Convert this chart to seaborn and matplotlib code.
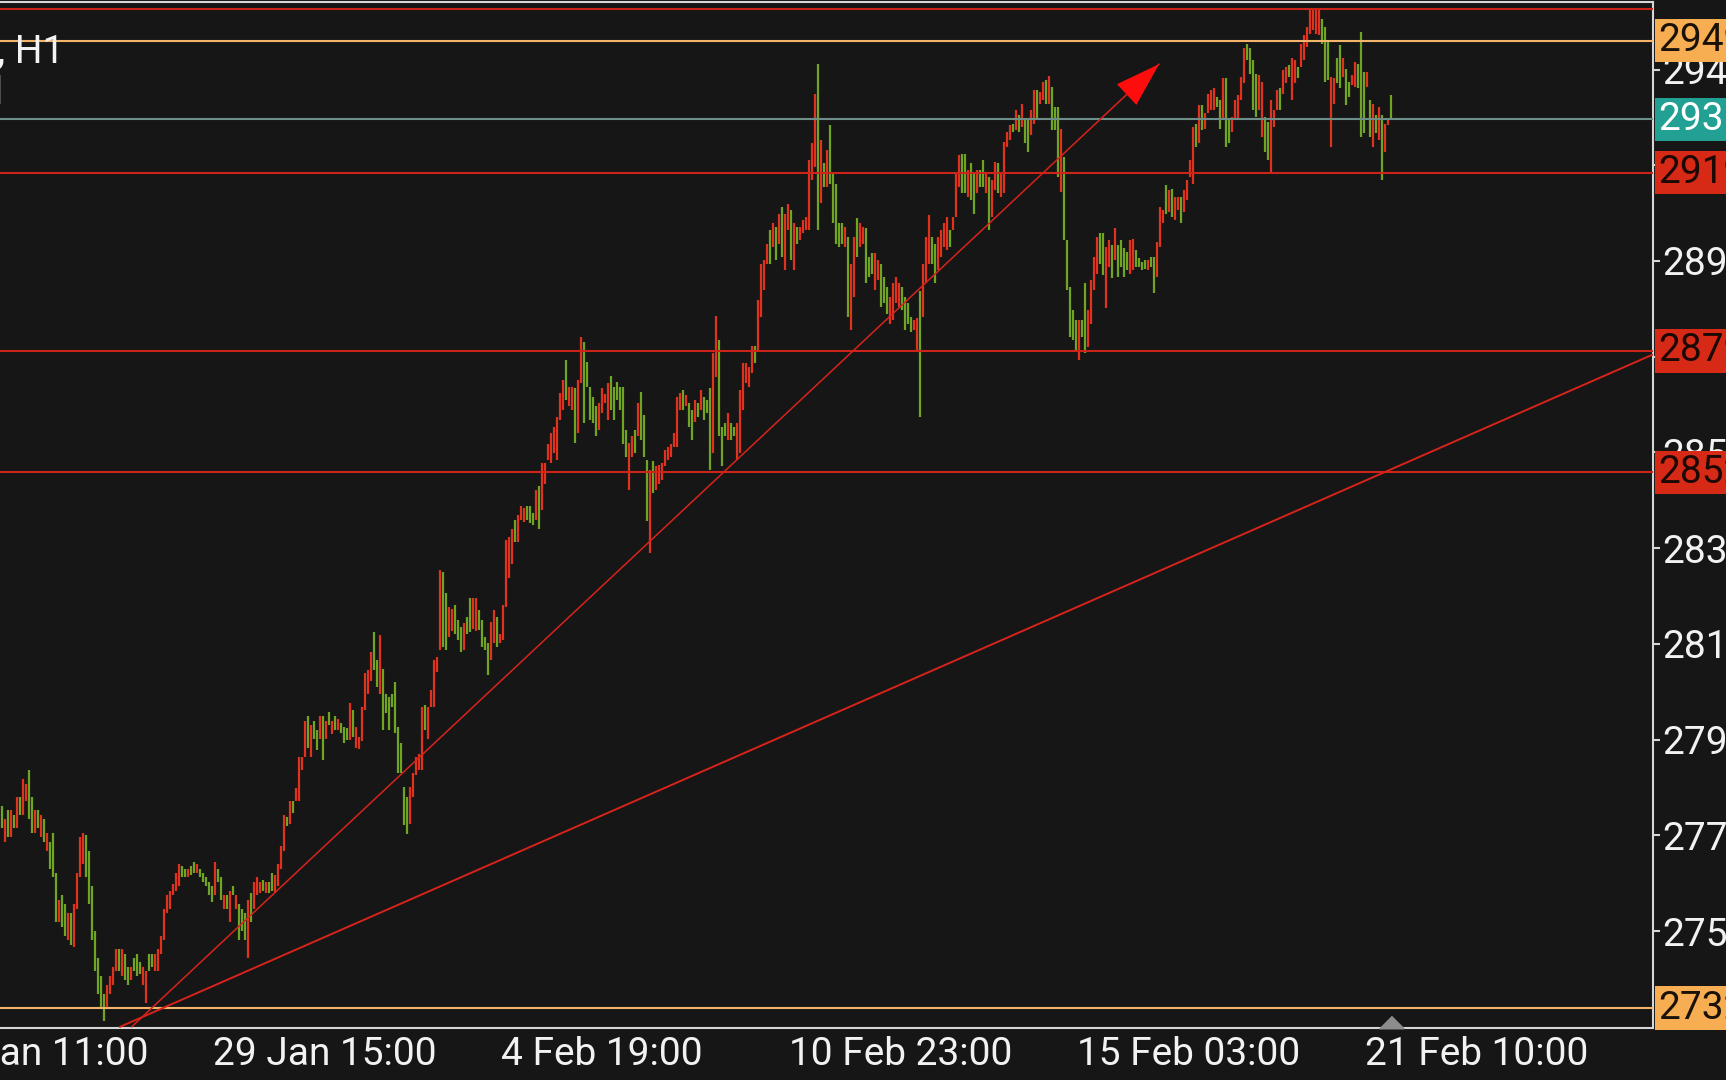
import numpy as np
import pandas as pd
import matplotlib
matplotlib.use("Agg")
import matplotlib.pyplot as plt
import seaborn as sns

# hourly bars (red = up, green = down)
opens = [
    2778, 2770, 2777, 2771, 2776, 2773, 2780, 2776, 2779, 2786,
    2780, 2772, 2777, 2771, 2775, 2768, 2770, 2772, 2763, 2752,
    2758, 2756, 2748, 2754, 2746.5, 2755, 2762, 2765, 2771.5, 2768,
    2760, 2750, 2744, 2740, 2736, 2733, 2736, 2738, 2741, 2746,
    2740, 2745, 2742, 2739, 2744, 2745, 2743, 2738, 2734, 2745,
    2745, 2741, 2741, 2745, 2748, 2754, 2755, 2758, 2759, 2760,
    2764.5, 2764, 2762, 2764.5, 2765.5, 2763, 2764, 2763, 2762, 2761,
    2760, 2758, 2764, 2762, 2755, 2758, 2752, 2760, 2755, 2756,
    2755, 2754, 2744, 2758.5, 2755, 2758, 2758.5, 2761.5, 2758.5, 2761,
    2763, 2758.5, 2760, 2764, 2768, 2775.6, 2774, 2779, 2779, 2779,
    2786, 2789, 2798, 2789, 2797, 2795, 2793, 2798, 2793, 2799,
    2794, 2798, 2795, 2796.5, 2795.7, 2795.3, 2792.7, 2799.4, 2791, 2790.8,
    2792.6, 2799.5, 2803, 2806, 2816.9, 2810.6, 2803.1, 2808.7, 2803.1, 2802.4,
    2803, 2805.7, 2795.7, 2792, 2782.3, 2780, 2774, 2780, 2785, 2786,
    2786, 2800.5, 2793, 2800, 2800, 2808, 2812.8, 2830.3, 2825.5, 2815.8,
    2817, 2822.9, 2819.5, 2818, 2812.8, 2820.3, 2824.4, 2817.6, 2817, 2821.8,
    2819.5, 2815.8, 2814.3, 2810.6, 2814.3, 2820.3, 2814.3, 2815, 2822.5, 2829,
    2832, 2842, 2837, 2842, 2841.5, 2845, 2845, 2843.4, 2841.9, 2849.4,
    2844.2, 2850, 2855.3, 2854.6, 2856.8, 2855.3, 2864.3, 2866.5, 2877.7, 2867.3,
    2866.5, 2871.3, 2861.3, 2872.5, 2881.8, 2877.3, 2871.7, 2869.5, 2867.3, 2862,
    2865.8, 2868, 2864.3, 2874, 2871.7, 2872.8, 2871.7, 2871.7, 2862, 2848.6,
    2856, 2862, 2860.6, 2870.6, 2865.4, 2855.3, 2834.5, 2855, 2848.6, 2850,
    2850.9, 2853.9, 2855.3, 2856, 2858.3, 2858.3, 2866.5, 2871, 2867.3, 2868,
    2866.5, 2863.9, 2868, 2866.5, 2869.5, 2868.7, 2871.3, 2856.8, 2873.9, 2882.2,
    2862.8, 2863.5, 2859.8, 2863.5, 2862.8, 2855.3, 2856.8, 2866.5, 2872.5, 2871.7,
    2874.7, 2880.7, 2879.9, 2887.3, 2893.3, 2899.2, 2906.7, 2903, 2907.4, 2903.7,
    2911.9, 2897.8, 2906.7, 2911.2, 2897.8, 2907.4, 2904.5, 2906, 2906.7, 2906.7,
    2917.9, 2920.9, 2943.9, 2912.7, 2921.6, 2916.4, 2930.2, 2919.4, 2917.1, 2908.2,
    2908.2, 2903, 2905.2, 2884.3, 2891.8, 2909.3, 2903, 2903.7, 2907.1, 2900.7,
    2901.5, 2893.3, 2895.5, 2899.2, 2896.3, 2894, 2885.8, 2886.6, 2890.3, 2889.6,
    2894, 2891.8, 2890.3, 2887.3, 2884.3, 2880, 2893, 2887.3, 2894.8, 2899.2,
    2905.2, 2903.7, 2897.8, 2900.7, 2903, 2902.2, 2906.7, 2906.7, 2909.7, 2916.4,
    2923.7, 2923.7, 2914.2, 2921.6, 2919.4, 2914.9, 2920.1, 2922.4, 2914.9, 2918.6,
    2909.7, 2915.6, 2921.6, 2914.2, 2914.9, 2925.3, 2926.8, 2930.5, 2929, 2932.4,
    2929.8, 2931.3, 2931.3, 2927.9, 2930.5, 2938, 2935, 2935.8, 2940.2, 2935,
    2938.7, 2934.3, 2934.3, 2915.3, 2923.1, 2904.5, 2894, 2888.8, 2886.6, 2877.7,
    2886.6, 2894.8, 2880.6, 2885.8, 2893.3, 2897, 2906, 2906, 2889.2, 2898.5,
    2903.3, 2900, 2903.3, 2904.5, 2902.6, 2901.9, 2897, 2897.8, 2902.2, 2900.4,
    2899.6, 2900, 2897.8, 2900.7, 2900.7, 2896.3, 2903, 2908.2, 2916.8, 2910.8,
    2916, 2908.9, 2911.2, 2914.2, 2910.8, 2913.4, 2918.6, 2917.1, 2930.5, 2926.1,
    2934.6, 2929.4, 2932.8, 2933.5, 2933.5, 2936.5, 2935.7, 2931.3, 2940.6, 2931.3,
    2928.7, 2931.3, 2931.6, 2935.7, 2939.5, 2948.4, 2947.3, 2944.7, 2941.7, 2933.5,
    2927.6, 2932, 2930.9, 2919.7, 2929.8, 2933.5, 2938.4, 2937.2, 2939.5, 2943.6,
    2935.7, 2939.5, 2943.2, 2943.2, 2944.7, 2947.7, 2950.6, 2951.4, 2950.6, 2950.3,
    2954, 2952.1, 2948.8, 2925.3, 2935, 2945.1, 2948, 2941, 2942.8, 2939.8,
    2939.1, 2938.7, 2943.9, 2951, 2942.1, 2938.7, 2935.7, 2925.3, 2932.4, 2926.8,
    2932.4, 2924.2, 2930.2, 2936.9,
]
closes = [
    2773, 2775, 2771, 2777, 2773, 2780, 2776, 2784, 2783, 2775,
    2772, 2777, 2773, 2776, 2770, 2772, 2764, 2762, 2752, 2757,
    2751, 2749, 2754, 2747, 2756, 2763, 2771, 2772, 2762, 2756,
    2748, 2741, 2736, 2733, 2730, 2738, 2740, 2742, 2746, 2741,
    2746, 2739, 2738, 2742, 2741, 2740, 2740.5, 2742, 2741, 2741,
    2742, 2745, 2746, 2749, 2755, 2758, 2759, 2760.5, 2763, 2765,
    2762, 2762, 2764, 2762.5, 2763, 2765, 2762, 2761, 2760, 2758,
    2756.5, 2765.5, 2761, 2757, 2758, 2755, 2759, 2758, 2758, 2748,
    2750, 2748, 2757, 2752, 2761, 2762, 2761, 2759, 2761, 2758.5,
    2759, 2762.5, 2765, 2769, 2776, 2773.4, 2779, 2776.5, 2782, 2789,
    2789, 2797, 2791, 2796, 2793, 2790.5, 2798, 2788.2, 2797, 2796,
    2797, 2795, 2797.5, 2794.2, 2792, 2792.7, 2801, 2793.4, 2795.7, 2793.4,
    2800.2, 2807.6, 2808.3, 2812.4, 2808.3, 2804.6, 2816.2, 2794.9, 2798.7, 2795,
    2800.2, 2794.2, 2785.3, 2785.3, 2773.7, 2771.8, 2782.3, 2785.3, 2789, 2789.7,
    2800, 2795, 2800, 2804, 2810.6, 2811.3, 2830.7, 2813.5, 2812.8, 2822.5,
    2822.1, 2816.5, 2815, 2812.4, 2818.8, 2816.5, 2816.9, 2824.4, 2824.4, 2817.3,
    2813.5, 2812.8, 2807.2, 2819.1, 2821.8, 2813.5, 2816.5, 2822.9, 2837.4, 2838,
    2840, 2837, 2843, 2845, 2844.5, 2842, 2841.2, 2840.8, 2848.6, 2840,
    2854.6, 2854.6, 2859, 2861.3, 2862.8, 2865, 2870.2, 2873.2, 2868.7, 2871.7,
    2871.7, 2859.1, 2873.2, 2882.9, 2863.5, 2871.7, 2864.3, 2863.5, 2860.6, 2868,
    2871.3, 2870, 2872.5, 2866.5, 2864.3, 2868.7, 2866.5, 2859, 2856, 2859.1,
    2860.6, 2856.8, 2868, 2859.8, 2856, 2841.6, 2853.1, 2847.9, 2853.9, 2854.2,
    2854.6, 2857.6, 2858.3, 2859, 2861.3, 2869.5, 2870.2, 2866.5, 2869.9, 2862.8,
    2859.8, 2868.7, 2865, 2871, 2864.3, 2865.8, 2853.1, 2879.2, 2887.4, 2860.6,
    2853.9, 2860.6, 2865.8, 2859.8, 2860.6, 2863.5, 2871, 2877, 2877, 2876.2,
    2880.7, 2876.9, 2891.1, 2899.2, 2900, 2903.7, 2899.2, 2908.2, 2900, 2910.4,
    2900.7, 2910.4, 2912.6, 2900, 2908.2, 2903.7, 2907.4, 2908.9, 2909.7, 2922.3,
    2926.1, 2937.2, 2906.7, 2926.8, 2916.4, 2924.6, 2917.1, 2908.2, 2903.7, 2903,
    2903.7, 2907.4, 2887.3, 2899.2, 2905.2, 2900.7, 2908.2, 2907.4, 2894.8, 2896.3,
    2897, 2901.5, 2900, 2889.6, 2890.3, 2888, 2891.8, 2894.8, 2896.3, 2894.8,
    2888.8, 2884.3, 2885.8, 2884, 2886.6, 2887, 2865, 2899.2, 2905.2, 2910,
    2899.2, 2894.8, 2905.2, 2906.7, 2908.2, 2909.7, 2903, 2909.7, 2919.4, 2923.5,
    2915, 2914.9, 2920.1, 2913.4, 2910.4, 2920.1, 2916.4, 2916.4, 2919.4, 2906.7,
    2917.9, 2922, 2914.9, 2919.4, 2926.4, 2928.7, 2930.2, 2928.7, 2933.5, 2928.7,
    2935, 2926.1, 2924.2, 2933.5, 2938, 2931.3, 2937.6, 2939.9, 2935, 2941.1,
    2929, 2929, 2918.6, 2929.4, 2904.5, 2893.3, 2882.9, 2882.1, 2879.9, 2886.6,
    2882.9, 2879.2, 2888.8, 2895.5, 2900.7, 2905.2, 2899.2, 2896.6, 2903, 2904.5,
    2895.9, 2907.1, 2896.3, 2898.5, 2896.3, 2897.8, 2904.5, 2904.8, 2898.5, 2898.5,
    2897.8, 2898.1, 2900, 2898.5, 2892.6, 2904.1, 2911.9, 2911.2, 2910.4, 2915.6,
    2909.7, 2914.2, 2914.2, 2908.2, 2915.6, 2917.9, 2922.4, 2929.8, 2925.3, 2934.6,
    2929, 2932.8, 2937.2, 2938, 2938.4, 2934.3, 2929.4, 2940.6, 2925.3, 2926.1,
    2932, 2935.7, 2936.9, 2941, 2947.3, 2944.7, 2941.7, 2933.5, 2932, 2941.3,
    2939.8, 2924.2, 2922.3, 2935.7, 2933.5, 2938, 2933.5, 2942.5, 2943.2, 2941,
    2945.1, 2944.7, 2940.6, 2948.4, 2950.3, 2952.1, 2955.9, 2955.9, 2956.2, 2955.9,
    2948.4, 2939.8, 2940.2, 2941, 2940.6, 2939.5, 2938.4, 2945.1, 2934.6, 2936.5,
    2941.3, 2944.3, 2938.4, 2927.6, 2928.3, 2942.1, 2927.6, 2935, 2928.3, 2934.3,
    2917.9, 2930.5, 2931.7, 2931.5,
]

time_ticks = [-26, 70, 166, 262, 358, 454]
time_labels = ["23 Jan 11:00", "29 Jan 15:00", "4 Feb 19:00",
               "10 Feb 23:00", "15 Feb 03:00", "21 Feb 10:00"]
price_ticks = [2750.0, 2771.4, 2792.8, 2814.2, 2835.6,
               2857.0, 2878.4, 2899.8, 2921.2, 2942.6]

# horizontal levels drawn on the chart
level_prices = [2956.2, 2949.0, 2931.5, 2919.5, 2879.7, 2852.6, 2732.8]
level_kinds = ["red", "orange", "teal", "red", "red", "red", "orange"]
level_tagged = [False, True, True, True, True, True, True]

# trendlines as (bar, price) anchors
steep_bars = [43.2, 385.7]
steep_prices = [2728.6, 2943.8]
flat_bars = [39.3, 550.3]
flat_prices = [2728.6, 2878.9]
last_bar = 463

BG = "#161616"
UP = "#e0331f"
DOWN = "#6fa523"
AXIS = "#d6d6d6"
LINE_COL = {"red": "#cc2419", "orange": "#f3b46c", "teal": "#6d8e89"}
TAG_FILL = {"red": "#d62a17", "orange": "#f7ae52", "teal": "#23a094"}
TAG_TEXT = {"red": "#1c0804", "orange": "#1a1208", "teal": "#ffffff"}

sns.set_style("dark", {"axes.facecolor": BG, "figure.facecolor": BG})
plt.rcParams["font.family"] = ["Roboto", "DejaVu Sans"]
FS = 28

fig = plt.figure(figsize=(17.26, 10.80), dpi=100)
ax = fig.add_axes([0, 52 / 1080, 1653 / 1726, 1026.5 / 1080])
ax.set_facecolor(BG)

df = pd.DataFrame({"bar": np.arange(len(opens)), "open": opens, "close": closes})
df["up"] = df["close"] > df["open"]
ax.vlines(df["bar"], df["open"], df["close"],
          colors=np.where(df["up"], UP, DOWN), lw=1.6, zorder=2)

for p, k in zip(level_prices, level_kinds):
    ax.axhline(p, color=LINE_COL[k], lw=1.5, zorder=3)

sns.lineplot(x=flat_bars, y=flat_prices, ax=ax, color="#d8231b", lw=1.4, zorder=3)
sns.lineplot(x=steep_bars, y=steep_prices, ax=ax, color="#d8231b", lw=1.1, zorder=3)
ax.annotate("", xy=(steep_bars[1], steep_prices[1]),
            xytext=(steep_bars[0], steep_prices[0]),
            arrowprops=dict(arrowstyle="-|>,head_length=3.2,head_width=1.02",
                            color="#ff0d0d", lw=0, shrinkA=0, shrinkB=0,
                            mutation_scale=10),
            zorder=4)

ax.set_xlim(-0.667, 550.33)
ax.set_ylim(2728.35, 2957.8)

ax.spines["left"].set_visible(False)
for side in ["right", "bottom", "top"]:
    ax.spines[side].set_visible(True)
    ax.spines[side].set_color(AXIS)
    ax.spines[side].set_linewidth(1.5)
ax.grid(False)

ax.yaxis.tick_right()
ax.set_yticks(price_ticks)
ax.set_yticklabels([f"{v:.2f}" for v in price_ticks])
ax.tick_params(axis="y", direction="out", length=5, width=1.5, color=AXIS,
               labelcolor="#f2f2f2", labelsize=FS, pad=2)
in_range = [t for t in time_ticks if t >= 0]
ax.set_xticks(in_range)
ax.set_xticklabels([""] * len(in_range))
ax.tick_params(axis="x", direction="out", length=6, width=1.5, color=AXIS)
for t, lab in zip(time_ticks, time_labels):
    ax.annotate(lab, xy=(t, 0), xycoords=("data", "axes fraction"),
                xytext=(1, -6), textcoords="offset points", ha="left", va="top",
                color="#f2f2f2", fontsize=FS, annotation_clip=False)

for p, k, tagged in zip(level_prices, level_kinds, level_tagged):
    if not tagged:
        continue
    ax.annotate(f"{p:.2f}", xy=(1, p), xycoords=("axes fraction", "data"),
                xytext=(4, 0), textcoords="offset points", ha="left", va="center",
                color=TAG_TEXT[k], fontsize=FS, annotation_clip=False, zorder=6,
                bbox=dict(boxstyle="square,pad=0.08", fc=TAG_FILL[k], ec="none"))

# current bar marker under the last candle
ax.plot([last_bar], [0.0063], transform=ax.get_xaxis_transform(), clip_on=False,
        marker=[(-1, -0.5), (1, -0.5), (0, 0.5)], ms=18, color="#8c8c8c",
        zorder=5)

fig.text(64 / 1726, 1 - 52 / 1080, "XAUUSD, H1", ha="right", va="center",
         color="#f2f2f2", fontsize=FS)
fig.text(4 / 1726, 1 - 94 / 1080, "Gold", ha="right", va="center",
         color="#f2f2f2", fontsize=FS)

fig.savefig("out.png", dpi=100, facecolor=BG)
